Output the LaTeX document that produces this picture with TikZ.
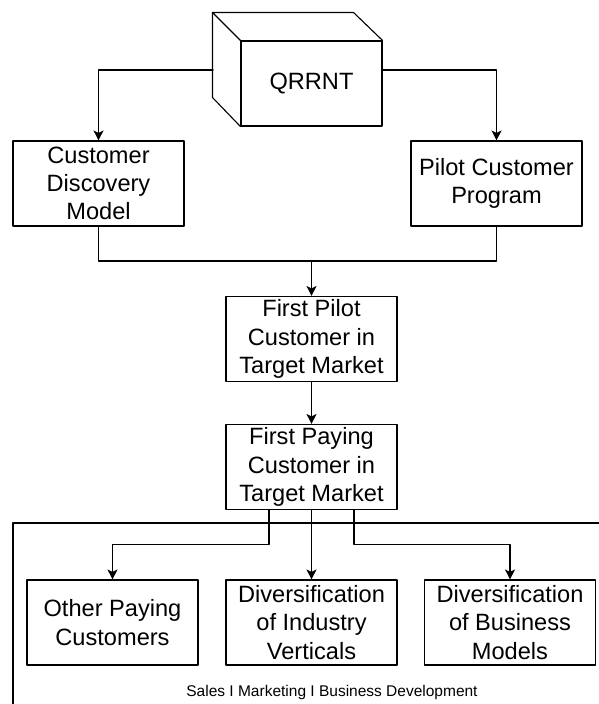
\documentclass[tikz,border=0pt]{standalone}
\usepackage{fontspec}
\setmainfont{Liberation Sans}
\usetikzlibrary{arrows.meta}

\begin{document}
\begin{tikzpicture}[line cap=round,line join=round,>={Stealth[length=10pt,width=10pt,inset=2.5pt]},x=1pt,y=-1pt,
  box/.style={draw,line width=1.1pt,fill=white,minimum width=171pt,minimum height=85pt,inner sep=0pt,align=center,font=\fontsize{23.6}{28.3}\selectfont},
  wire/.style={line width=1.1pt}]
\useasboundingbox[fill=white] (0,0) rectangle (598,704);
% frame of the lower part
\draw[wire] (13,710) -- (13,523) -- (605,523);
\node[font=\fontsize{15.5}{18}\selectfont] (sbd) at (332,692) {Sales I Marketing I Business Development};
% cube
\node[box,minimum width=141pt] (qrrnt) at (311.5,83.5) {QRRNT};
\draw[wire] (qrrnt.north west) -- ++(-28,-28) coordinate (bk) -- ++(141,0) -- (qrrnt.north east);
\draw[wire] (bk) -- ++(0,85) -- (qrrnt.south west);
\coordinate (cubeL) at (213,70);
\coordinate (cubeR) at (382,70);
% boxes
\node[box] (cdm) at (98.5,183.5) {Customer\\Discovery\\Model};
\node[box] (pcp) at (496.5,183.5) {Pilot Customer\\Program};
\node[box] (fpilot) at (311.5,339) {First Pilot\\Customer in\\Target Market};
\node[box] (fpaying) at (311.5,467) {First Paying\\Customer in\\Target Market};
\node[box] (other) at (112.5,622.5) {Other Paying\\Customers};
\node[box] (divind) at (311.5,622.5) {Diversification\\of Industry\\Verticals};
\node[box] (divbus) at (510,622.5) {Diversification\\of Business\\Models};
% connectors
\draw[wire,->] (cubeL) -| (cdm.north);
\draw[wire,->] (cubeR) -| (pcp.north);
\coordinate (merge) at (311.5,261);
\draw[wire] (cdm.south) |- (merge);
\draw[wire] (pcp.south) |- (merge);
\draw[wire,->] (merge) -- (fpilot.north);
\draw[wire,->] (fpilot) -- (fpaying);
\draw[wire,->] ([xshift=-42.5pt]fpaying.south) -- ++(0,34) -| (other.north);
\draw[wire,->] (fpaying) -- (divind);
\draw[wire,->] ([xshift=42.5pt]fpaying.south) -- ++(0,34) -| (divbus.north);
\end{tikzpicture}
\end{document}
